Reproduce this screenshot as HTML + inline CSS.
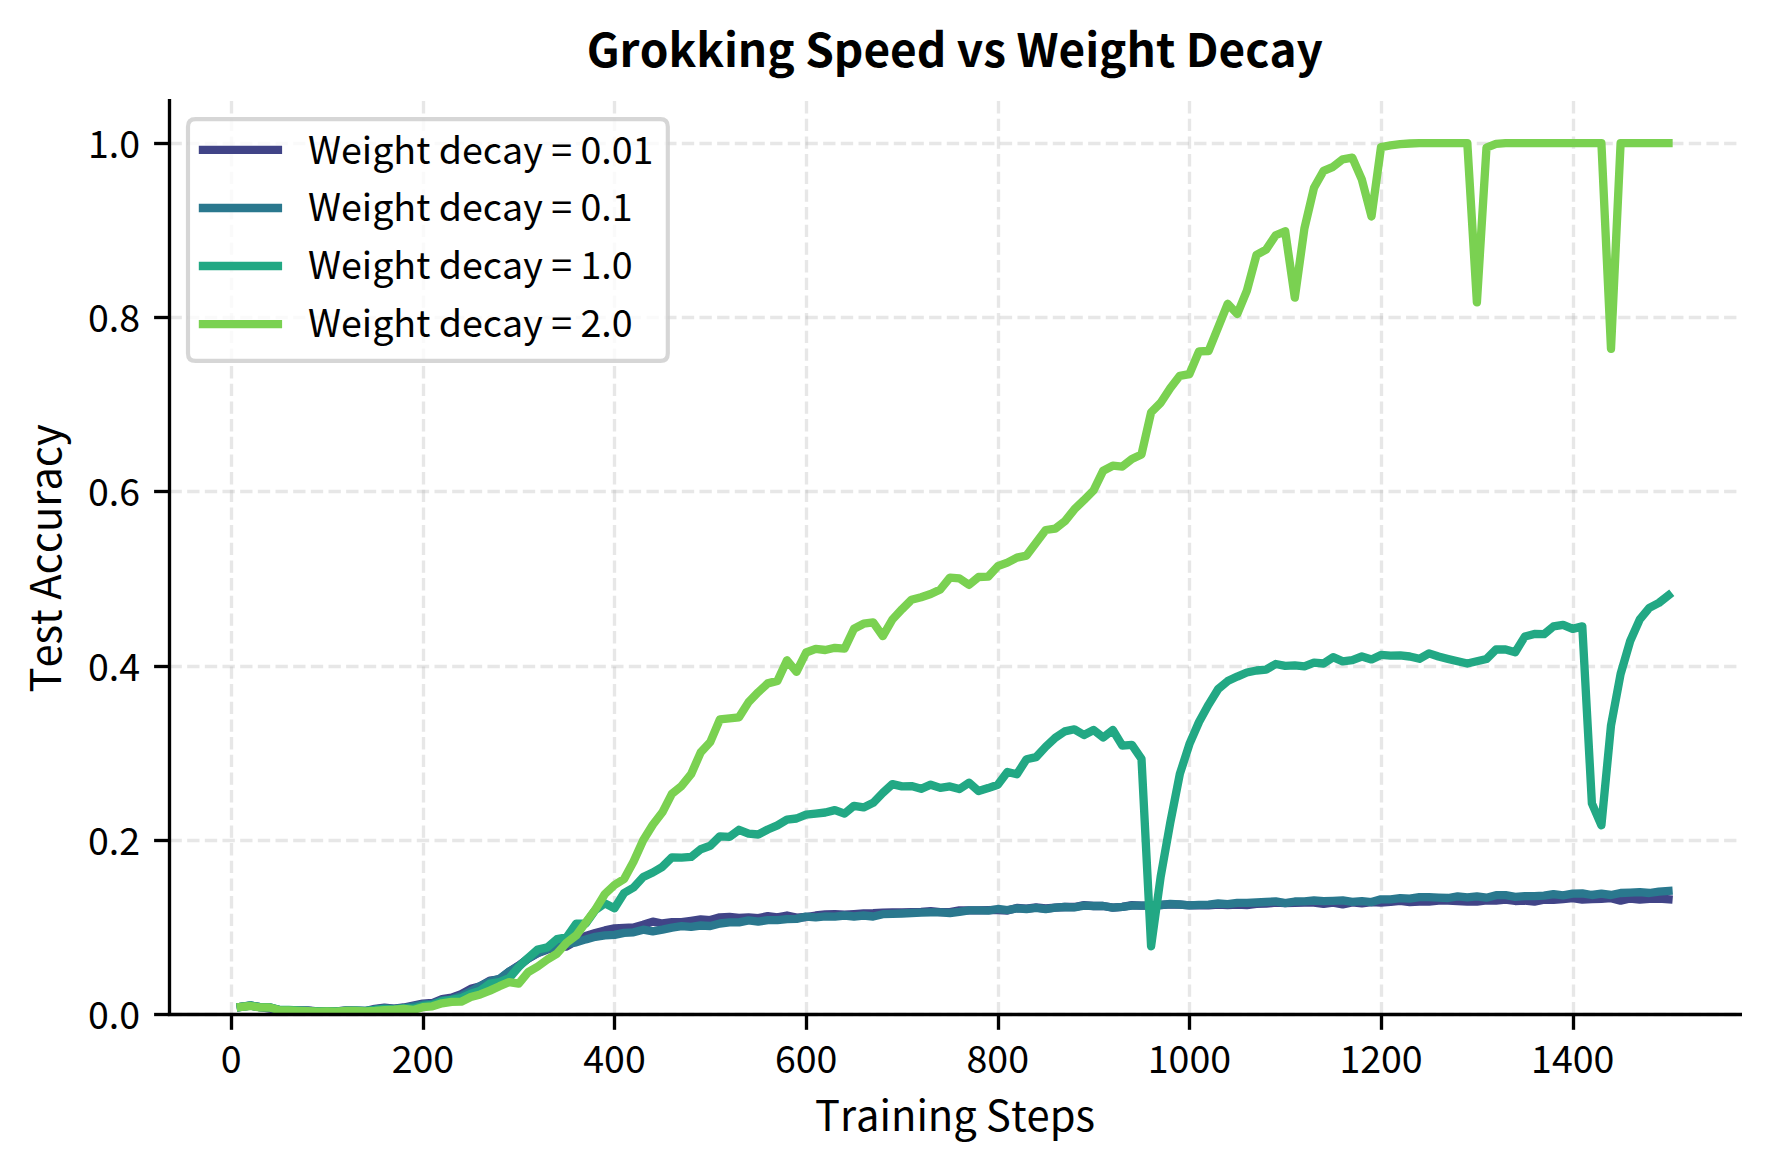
<!DOCTYPE html>
<html lang="en">
<head>
<meta charset="utf-8">
<title>Grokking Speed vs Weight Decay</title>
<style>
html,body{margin:0;padding:0;background:#fff;}
body{width:1770px;height:1170px;overflow:hidden;}
svg{display:block;}
svg text{font-family:"Noto Sans CJK JP", "Liberation Sans", sans-serif;fill:#000;font-kerning:none;}
.tick{font-size:37.5px;}
.lab{font-size:41.67px;}
.leg{font-size:37.6px;}
.title{font-size:45.95px;font-weight:700;}
</style>
</head>
<body>
<svg width="1770" height="1170" viewBox="0 0 1770 1170">
<rect x="0" y="0" width="1770" height="1170" fill="#ffffff"/>
<g stroke="#b0b0b0" stroke-opacity="0.3" stroke-width="3.33" stroke-dasharray="12.333 5.333" fill="none">
<path d="M231.5 1014.4V99.2"/>
<path d="M423.5 1014.4V99.2"/>
<path d="M614.5 1014.4V99.2"/>
<path d="M806.5 1014.4V99.2"/>
<path d="M998.5 1014.4V99.2"/>
<path d="M1189.5 1014.4V99.2"/>
<path d="M1381.5 1014.4V99.2"/>
<path d="M1573.5 1014.4V99.2"/>
<path d="M169.5 1014.5H1740.3"/>
<path d="M169.5 840.5H1740.3"/>
<path d="M169.5 666.5H1740.3"/>
<path d="M169.5 491.5H1740.3"/>
<path d="M169.5 317.5H1740.3"/>
<path d="M169.5 143.5H1740.3"/>
</g>
<defs><clipPath id="axclip"><rect x="169.50" y="99.20" width="1570.80" height="915.20"/></clipPath></defs>
<g fill="none" stroke-width="8.33" stroke-linejoin="round" stroke-linecap="square" clip-path="url(#axclip)">
<path stroke="#414487" d="M240.8 1006.8L250.4 1005.7L259.9 1007.1L269.5 1008.6L279.1 1009.8L288.7 1010.1L298.3 1010.5L307.9 1010.4L317.4 1011.4L327.0 1011.2L336.6 1011.4L346.2 1010.4L355.8 1010.6L365.4 1011.0L374.9 1008.9L384.5 1007.6L394.1 1008.6L403.7 1007.5L413.3 1005.6L422.8 1003.7L432.4 1003.0L442.0 999.2L451.6 997.7L461.2 994.2L470.8 988.8L480.3 986.2L489.9 980.7L499.5 979.4L509.1 971.7L518.7 965.5L528.2 958.6L537.8 953.2L547.4 949.6L557.0 947.0L566.6 946.5L576.2 941.0L585.7 936.0L595.3 933.0L604.9 930.4L614.5 928.4L624.1 927.9L633.6 927.4L643.2 924.8L652.8 921.6L662.4 923.5L672.0 922.2L681.6 922.2L691.1 920.9L700.7 919.4L710.3 920.1L719.9 917.3L729.5 916.8L739.0 917.9L748.6 917.3L758.2 918.1L767.8 916.2L777.4 917.3L787.0 915.5L796.5 917.6L806.1 917.0L815.7 915.5L825.3 914.5L834.9 914.1L844.5 914.7L854.0 914.2L863.6 913.5L873.2 913.2L882.8 912.6L892.4 912.5L902.0 912.3L911.5 912.1L921.1 911.8L930.7 911.1L940.3 912.1L949.9 912.1L959.4 910.4L969.0 910.3L978.6 910.3L988.2 910.1L997.8 910.0L1007.4 910.5L1016.9 908.0L1026.5 908.7L1036.1 907.5L1045.7 908.5L1055.3 907.7L1064.8 907.0L1074.4 907.0L1084.0 905.2L1093.6 906.0L1103.2 906.0L1112.8 907.6L1122.3 906.8L1131.9 905.2L1141.5 905.6L1151.1 905.5L1160.7 905.0L1170.2 904.3L1179.8 904.6L1189.4 905.4L1199.0 905.2L1208.6 905.4L1218.2 904.6L1227.7 905.0L1237.3 904.6L1246.9 905.0L1256.5 903.9L1266.1 903.6L1275.7 902.6L1285.2 903.1L1294.8 902.9L1304.4 902.6L1314.0 902.6L1323.6 903.9L1333.1 902.6L1342.7 904.3L1352.3 902.3L1361.9 903.3L1371.5 902.1L1381.0 902.6L1390.6 901.9L1400.2 900.9L1409.8 902.1L1419.4 901.6L1429.0 901.6L1438.5 900.6L1448.1 900.6L1457.7 901.1L1467.3 901.6L1476.9 901.6L1486.5 900.3L1496.0 900.6L1505.6 899.6L1515.2 901.0L1524.8 900.6L1534.4 901.6L1544.0 899.6L1553.5 899.9L1563.1 899.1L1572.7 898.2L1582.3 899.6L1591.9 899.1L1601.4 898.8L1611.0 898.2L1620.6 900.6L1630.2 898.5L1639.8 899.6L1649.3 898.8L1658.9 898.5L1668.5 899.3"/>
<path stroke="#2a788e" d="M240.8 1006.9L250.4 1005.3L259.9 1007.2L269.5 1007.3L279.1 1009.9L288.7 1010.2L298.3 1010.6L307.9 1010.9L317.4 1011.5L327.0 1011.3L336.6 1011.5L346.2 1010.8L355.8 1010.7L365.4 1011.1L374.9 1009.5L384.5 1008.3L394.1 1009.0L403.7 1008.0L413.3 1006.3L422.8 1004.5L432.4 1003.8L442.0 1000.3L451.6 999.3L461.2 996.0L470.8 991.1L480.3 986.0L489.9 981.5L499.5 978.8L509.1 971.7L518.7 966.0L528.2 958.5L537.8 953.0L547.4 949.0L557.0 946.0L566.6 944.0L576.2 942.4L585.7 939.4L595.3 936.8L604.9 935.3L614.5 934.8L624.1 932.8L633.6 932.3L643.2 929.7L652.8 931.3L662.4 929.6L672.0 927.6L681.6 926.1L691.1 926.8L700.7 925.5L710.3 926.0L719.9 923.5L729.5 922.4L739.0 922.4L748.6 920.4L758.2 921.7L767.8 920.1L777.4 920.1L787.0 919.1L796.5 918.9L806.1 916.6L815.7 917.4L825.3 916.3L834.9 916.6L844.5 915.5L854.0 916.5L863.6 915.5L873.2 916.5L882.8 914.2L892.4 913.8L902.0 913.5L911.5 913.0L921.1 912.6L930.7 912.4L940.3 912.4L949.9 913.0L959.4 911.9L969.0 910.4L978.6 910.4L988.2 910.7L997.8 909.0L1007.4 910.1L1016.9 908.3L1026.5 909.0L1036.1 907.8L1045.7 909.2L1055.3 907.7L1064.8 907.0L1074.4 907.4L1084.0 905.6L1093.6 906.0L1103.2 906.0L1112.8 907.6L1122.3 906.8L1131.9 905.7L1141.5 905.6L1151.1 905.5L1160.7 905.0L1170.2 904.0L1179.8 904.5L1189.4 905.4L1199.0 904.8L1208.6 904.6L1218.2 903.5L1227.7 904.1L1237.3 902.8L1246.9 902.8L1256.5 902.5L1266.1 902.0L1275.7 901.3L1285.2 903.1L1294.8 901.5L1304.4 901.3L1314.0 900.5L1323.6 901.1L1333.1 900.8L1342.7 900.3L1352.3 901.8L1361.9 901.1L1371.5 902.1L1381.0 899.3L1390.6 899.3L1400.2 898.2L1409.8 898.7L1419.4 897.2L1429.0 897.2L1438.5 897.7L1448.1 898.0L1457.7 896.4L1467.3 897.4L1476.9 896.4L1486.5 897.7L1496.0 895.2L1505.6 895.2L1515.2 896.8L1524.8 896.2L1534.4 896.2L1544.0 895.7L1553.5 894.2L1563.1 895.4L1572.7 893.7L1582.3 893.4L1591.9 895.0L1601.4 893.7L1611.0 895.0L1620.6 893.0L1630.2 892.6L1639.8 892.1L1649.3 893.0L1658.9 891.6L1668.5 890.9"/>
<path stroke="#22a884" d="M240.8 1006.8L250.4 1005.7L259.9 1007.1L269.5 1007.2L279.1 1009.8L288.7 1009.9L298.3 1010.5L307.9 1010.8L317.4 1011.4L327.0 1011.2L336.6 1011.4L346.2 1010.7L355.8 1010.6L365.4 1011.0L374.9 1010.0L384.5 1009.0L394.1 1009.3L403.7 1008.3L413.3 1008.5L422.8 1006.0L432.4 1005.0L442.0 1001.3L451.6 999.9L461.2 998.0L470.8 993.8L480.3 990.7L489.9 983.7L499.5 982.2L509.1 978.2L518.7 967.0L528.2 957.8L537.8 949.5L547.4 947.4L557.0 939.2L566.6 937.3L576.2 923.7L585.7 923.5L595.3 910.0L604.9 903.4L614.5 908.3L624.1 893.0L633.6 887.5L643.2 877.0L652.8 872.5L662.4 866.8L672.0 857.3L681.6 857.6L691.1 856.9L700.7 849.2L710.3 845.8L719.9 836.3L729.5 836.9L739.0 829.8L748.6 833.6L758.2 834.5L767.8 829.5L777.4 825.4L787.0 819.7L796.5 818.5L806.1 814.6L815.7 813.6L825.3 812.5L834.9 810.1L844.5 813.6L854.0 805.8L863.6 807.4L873.2 802.8L882.8 792.9L892.4 784.1L902.0 786.4L911.5 786.1L921.1 788.8L930.7 784.7L940.3 787.9L949.9 786.4L959.4 789.1L969.0 782.7L978.6 791.1L988.2 788.1L997.8 784.7L1007.4 772.0L1016.9 774.2L1026.5 759.2L1036.1 757.1L1045.7 746.7L1055.3 737.7L1064.8 731.4L1074.4 729.3L1084.0 735.0L1093.6 730.0L1103.2 737.5L1112.8 730.0L1122.3 745.6L1131.9 744.9L1141.5 758.9L1151.1 946.3L1160.7 876.5L1170.2 823.0L1179.8 774.1L1189.4 744.2L1199.0 722.0L1208.6 704.6L1218.2 689.0L1227.7 681.1L1237.3 676.6L1246.9 672.5L1256.5 670.5L1266.1 669.6L1275.7 664.0L1285.2 665.8L1294.8 665.4L1304.4 666.4L1314.0 662.6L1323.6 663.5L1333.1 657.2L1342.7 661.3L1352.3 660.1L1361.9 656.5L1371.5 659.4L1381.0 654.9L1390.6 655.6L1400.2 655.3L1409.8 656.5L1419.4 658.8L1429.0 653.4L1438.5 656.5L1448.1 659.0L1457.7 661.3L1467.3 663.5L1476.9 661.3L1486.5 659.0L1496.0 649.5L1505.6 649.5L1515.2 652.2L1524.8 636.6L1534.4 633.9L1544.0 634.2L1553.5 626.4L1563.1 624.8L1572.7 628.9L1582.3 626.4L1591.9 803.4L1601.4 825.3L1611.0 725.4L1620.6 674.0L1630.2 641.0L1639.8 619.4L1649.3 607.9L1658.9 602.9L1668.5 595.4"/>
<path stroke="#7ad151" d="M240.8 1007.0L250.4 1006.0L259.9 1007.4L269.5 1007.5L279.1 1010.1L288.7 1010.4L298.3 1010.8L307.9 1011.1L317.4 1011.7L327.0 1011.5L336.6 1011.7L346.2 1011.0L355.8 1010.9L365.4 1011.3L374.9 1010.9L384.5 1010.2L394.1 1009.7L403.7 1008.9L413.3 1009.9L422.8 1007.2L432.4 1006.3L442.0 1003.3L451.6 1001.8L461.2 1001.7L470.8 997.0L480.3 994.4L489.9 990.6L499.5 986.2L509.1 982.2L518.7 983.6L528.2 972.1L537.8 966.5L547.4 959.5L557.0 953.6L566.6 942.7L576.2 935.4L585.7 922.6L595.3 909.6L604.9 894.0L614.5 885.0L624.1 879.0L633.6 861.5L643.2 840.3L652.8 824.7L662.4 812.3L672.0 793.7L681.6 785.9L691.1 774.2L700.7 752.4L710.3 742.0L719.9 719.3L729.5 718.4L739.0 717.3L748.6 702.1L758.2 692.2L767.8 683.4L777.4 680.9L787.0 660.3L796.5 671.9L806.1 652.5L815.7 648.9L825.3 650.0L834.9 647.8L844.5 648.7L854.0 628.8L863.6 623.7L873.2 622.4L882.8 636.1L892.4 619.5L902.0 609.2L911.5 599.7L921.1 597.2L930.7 594.0L940.3 589.5L949.9 577.6L959.4 578.4L969.0 584.9L978.6 577.0L988.2 576.6L997.8 566.2L1007.4 562.6L1016.9 557.6L1026.5 555.6L1036.1 542.7L1045.7 530.0L1055.3 528.6L1064.8 521.3L1074.4 509.3L1084.0 500.1L1093.6 490.3L1103.2 470.7L1112.8 465.7L1122.3 466.6L1131.9 458.9L1141.5 454.4L1151.1 412.4L1160.7 402.7L1170.2 388.3L1179.8 375.8L1189.4 374.1L1199.0 351.4L1208.6 351.0L1218.2 327.3L1227.7 303.8L1237.3 314.0L1246.9 290.7L1256.5 254.8L1266.1 249.6L1275.7 235.3L1285.2 231.2L1294.8 297.7L1304.4 228.5L1314.0 187.8L1323.6 170.8L1333.1 166.8L1342.7 159.3L1352.3 157.7L1361.9 179.7L1371.5 216.5L1381.0 147.1L1390.6 145.4L1400.2 144.1L1409.8 143.5L1419.4 143.1L1429.0 143.1L1438.5 143.1L1448.1 143.1L1457.7 143.1L1467.3 143.1L1476.9 302.4L1486.5 147.6L1496.0 143.9L1505.6 143.1L1515.2 143.1L1524.8 143.1L1534.4 143.1L1544.0 143.1L1553.5 143.1L1563.1 143.1L1572.7 143.1L1582.3 143.1L1591.9 143.1L1601.4 143.1L1611.0 348.8L1620.6 143.1L1630.2 143.1L1639.8 143.1L1649.3 143.1L1658.9 143.1L1668.5 143.1"/>
</g>
<g stroke="#000" stroke-width="3.33" fill="none">
<path d="M169.5 1016.1V99"/>
<path d="M167.8 1014.5H1742"/>
</g>
<g stroke="#000" stroke-width="3.33" fill="none">
<path d="M231.5 1014.5V1029.8"/>
<path d="M423.5 1014.5V1029.8"/>
<path d="M614.5 1014.5V1029.8"/>
<path d="M806.5 1014.5V1029.8"/>
<path d="M998.5 1014.5V1029.8"/>
<path d="M1189.5 1014.5V1029.8"/>
<path d="M1381.5 1014.5V1029.8"/>
<path d="M1573.5 1014.5V1029.8"/>
<path d="M169.5 1014.5H154.1"/>
<path d="M169.5 840.5H154.1"/>
<path d="M169.5 666.5H154.1"/>
<path d="M169.5 491.5H154.1"/>
<path d="M169.5 317.5H154.1"/>
<path d="M169.5 143.5H154.1"/>
</g>
<g class="tick" text-anchor="middle">
<text transform="translate(231.20 1072.8) scale(1 1.02)">0</text>
<text transform="translate(422.84 1072.8) scale(1 1.02)">200</text>
<text transform="translate(614.48 1072.8) scale(1 1.02)">400</text>
<text transform="translate(806.13 1072.8) scale(1 1.02)">600</text>
<text transform="translate(997.77 1072.8) scale(1 1.02)">800</text>
<text transform="translate(1189.41 1072.8) scale(1 1.02)">1000</text>
<text transform="translate(1381.05 1072.8) scale(1 1.02)">1200</text>
<text transform="translate(1572.69 1072.8) scale(1 1.02)">1400</text>
</g>
<g class="tick" text-anchor="end">
<text transform="translate(140 1028.70) scale(1 1.02)">0.0</text>
<text transform="translate(140 854.70) scale(1 1.02)">0.2</text>
<text transform="translate(140 680.70) scale(1 1.02)">0.4</text>
<text transform="translate(140 505.70) scale(1 1.02)">0.6</text>
<text transform="translate(140 331.70) scale(1 1.02)">0.8</text>
<text transform="translate(140 157.70) scale(1 1.02)">1.0</text>
</g>
<text class="lab" text-anchor="middle" x="955" y="1131">Training Steps</text>
<text class="lab" text-anchor="middle" transform="translate(61 558.3) rotate(-90)">Test Accuracy</text>
<text class="title" text-anchor="middle" x="954.8" y="66.5">Grokking Speed vs Weight Decay</text>
<path d="M195.5 119.2H660.3Q667.8 119.2 667.8 126.7V353.4Q667.8 360.9 660.3 360.9H195.5Q188.0 360.9 188.0 353.4V126.7Q188.0 119.2 195.5 119.2Z" fill="#fff" fill-opacity="0.8" stroke="#cccccc" stroke-opacity="0.8" stroke-width="4.17"/>
<path d="M198.8 149.9H282.1" stroke="#414487" stroke-width="8.33" fill="none"/>
<text class="leg" x="308" y="163.8">Weight decay = 0.01</text>
<path d="M198.8 208.0H282.1" stroke="#2a788e" stroke-width="8.33" fill="none"/>
<text class="leg" x="308" y="220.8">Weight decay = 0.1</text>
<path d="M198.8 266.0H282.1" stroke="#22a884" stroke-width="8.33" fill="none"/>
<text class="leg" x="308" y="278.8">Weight decay = 1.0</text>
<path d="M198.8 324.1H282.1" stroke="#7ad151" stroke-width="8.33" fill="none"/>
<text class="leg" x="308" y="336.9">Weight decay = 2.0</text>
</svg>
</body>
</html>
